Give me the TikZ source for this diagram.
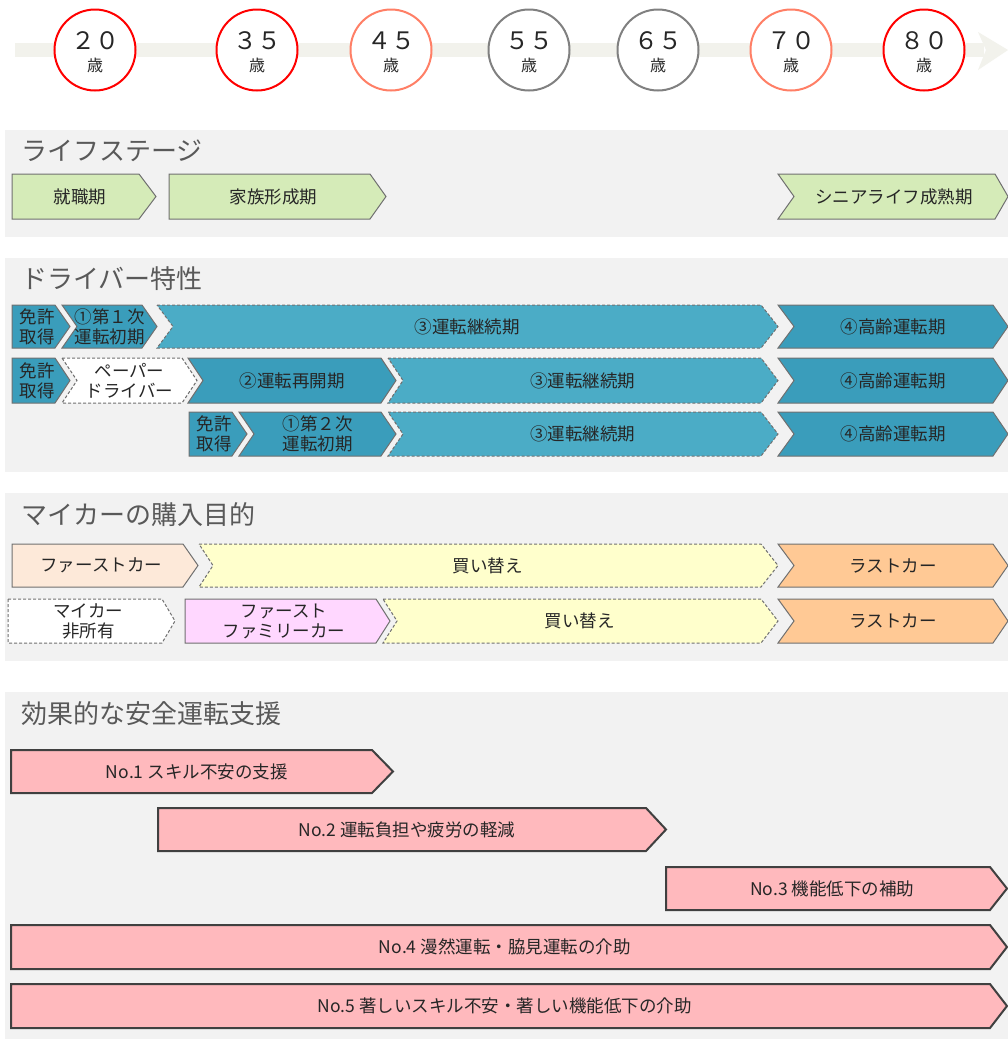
\documentclass[tikz,border=0pt]{standalone}
\usepackage{fontspec}
\newfontfamily\jp{Noto Sans CJK JP}
\definecolor{panelc}{HTML}{F2F2F2}
\definecolor{bandc}{HTML}{F2F2EC}
\definecolor{txtc}{HTML}{262626}
\definecolor{headc}{HTML}{595959}
\definecolor{bordc}{HTML}{707070}
\definecolor{greenf}{HTML}{D5EBB8}
\definecolor{tealDf}{HTML}{3A9DBB}
\definecolor{tealLf}{HTML}{4BACC6}
\definecolor{firstf}{HTML}{FDE9D9}
\definecolor{kaif}{HTML}{FFFFCC}
\definecolor{lastf}{HTML}{FFC995}
\definecolor{famf}{HTML}{FFD7FF}
\definecolor{pinkf}{HTML}{FFB9BD}
\definecolor{pinkb}{HTML}{404040}
\definecolor{salm}{HTML}{FF7F66}
\definecolor{greyc}{HTML}{808080}
\tikzset{
  lbl/.style={font=\jp\fontsize{17.5}{20}\selectfont, text=txtc, align=center, inner sep=0pt},
  head/.style={font=\jp\fontsize{26}{30}\selectfont, text=headc, anchor=west, inner sep=0pt},
  solidb/.style={draw=bordc, line width=1pt},
  dashb/.style={draw=bordc, line width=1pt, dash pattern=on 3pt off 2pt},
  green/.style={solidb, fill=greenf},
  tealD/.style={solidb, fill=tealDf},
  tealL/.style={dashb, fill=tealLf},
  paper/.style={dashb, fill=white},
  firstcar/.style={solidb, fill=firstf},
  kaikae/.style={dashb, fill=kaif},
  lastcar/.style={solidb, fill=lastf},
  family/.style={solidb, fill=famf},
  nocar/.style={dashb, fill=white},
  pinkbar/.style={draw=pinkb, line width=2pt, fill=pinkf},
  agecirc/.style={circle, minimum size=81pt, line width=2pt, fill=white, inner sep=0pt},
  agenum/.style={font=\jp\fontsize{24}{24}\selectfont, text=txtc, inner sep=0pt},
  agesai/.style={font=\jp\fontsize{16}{16}\selectfont, text=txtc, inner sep=0pt},
}
% #1 style, #2 x1, #3 tip x, #4 top y, #5 bottom y, #6 notch depth, #7 tip depth, #8 name, #9 text
\newcommand\shp[9]{%
  \pgfmathsetmacro\ymid{(#4+#5)/2}%
  \pgfmathsetmacro\xcen{(#2+#6/2+#3-#7/2)/2}%
  \draw[#1] (#2,#4) -- ({#3-#7},#4) -- (#3,\ymid) -- ({#3-#7},#5) -- (#2,#5) -- ({#2+#6},\ymid) -- cycle;
  \node[lbl] (#8) at (\xcen,\ymid) {#9};}
\newcommand\agenode[4]{%
  \node[agecirc, draw=#2] (#1) at (#3,50) {};
  \node[agenum] (#1n) at (#3,41) {#4};
  \node[agesai] (#1s) at (#3,65) {歳};}
\begin{document}
\begin{tikzpicture}[x=1pt, y=-1pt]
\useasboundingbox (0,0) rectangle (1008,1039);
\fill[white] (0,0) rectangle (1008,1039);
% timeline band
\fill[bandc] (15,43) rectangle (984,57);
\fill[bandc] (978,32) -- (1008,50) -- (978,70) -- (986,50) -- cycle;
\agenode{a20}{red}{95}{２０}
\agenode{a35}{red}{257}{３５}
\agenode{a45}{salm}{391}{４５}
\agenode{a55}{greyc}{529}{５５}
\agenode{a65}{greyc}{658}{６５}
\agenode{a70}{salm}{791}{７０}
\agenode{a80}{red}{924}{８０}
% panels
\fill[panelc] (5,130) rectangle (1008,237);
\fill[panelc] (5,258) rectangle (1008,472);
\fill[panelc] (5,493) rectangle (1008,661);
\fill[panelc] (5,692) rectangle (1008,1039);
\node[head] (h1) at (21,151) {ライフステージ};
\node[head] (h2) at (21,279) {ドライバー特性};
\node[head] (h3) at (21,515) {マイカーの購入目的};
\node[head] (h4) at (21,714) {効果的な安全運転支援};
% life stage
\shp{green}{12}{156}{174}{219}{0}{17}{s1a}{就職期}
\shp{green}{169}{386}{174}{219}{0}{16}{s1b}{家族形成期}
\shp{green}{778}{1008}{174}{219}{16}{13}{s1c}{シニアライフ成熟期}
% driver row 1
\shp{tealD}{12}{70}{305}{348}{0}{15}{d1a}{免許\\取得}
\shp{tealD}{62}{157}{305}{348}{15}{15}{d1b}{①第１次\\運転初期}
\shp{tealL}{157}{778}{305}{348}{16}{17}{d1c}{③運転継続期}
\shp{tealD}{778}{1008}{305}{348}{16}{15}{d1d}{④高齢運転期}
% driver row 2
\shp{tealD}{12}{70}{358}{403}{0}{15}{d2a}{免許\\取得}
\shp{paper}{62}{197}{358}{403}{15}{15}{d2b}{ペーパー\\ドライバー}
\shp{tealD}{188}{396}{358}{403}{15}{15}{d2c}{②運転再開期}
\shp{tealL}{388}{778}{358}{403}{15}{17}{d2d}{③運転継続期}
\shp{tealD}{778}{1008}{358}{403}{16}{15}{d2e}{④高齢運転期}
% driver row 3
\shp{tealD}{189}{247}{412}{456}{0}{15}{d3a}{免許\\取得}
\shp{tealD}{239}{396}{412}{456}{15}{15}{d3b}{①第２次\\運転初期}
\shp{tealL}{388}{778}{412}{456}{15}{17}{d3c}{③運転継続期}
\shp{tealD}{778}{1008}{412}{456}{16}{15}{d3d}{④高齢運転期}
% purchase row 1
\shp{firstcar}{12}{198}{544}{587}{0}{15}{p1a}{ファーストカー}
\shp{kaikae}{199}{778}{544}{587}{14}{17}{p1b}{買い替え}
\shp{lastcar}{778}{1008}{544}{587}{16}{15}{p1c}{ラストカー}
% purchase row 2
\shp{nocar}{8}{175}{599}{643}{0}{13}{p2a}{マイカー\\非所有}
\shp{family}{185}{390}{599}{643}{0}{14}{p2b}{ファースト\\ファミリーカー}
\shp{kaikae}{383}{778}{599}{643}{14}{17}{p2c}{買い替え}
\shp{lastcar}{778}{1008}{599}{643}{16}{15}{p2d}{ラストカー}
% support
\shp{pinkbar}{11}{393}{750}{793}{0}{21}{e1}{No.1 スキル不安の支援}
\shp{pinkbar}{158}{666}{808}{851}{0}{20}{e2}{No.2 運転負担や疲労の軽減}
\shp{pinkbar}{666}{1007}{867}{910}{0}{17}{e3}{No.3 機能低下の補助}
\shp{pinkbar}{11}{1007}{925}{969}{0}{17}{e4}{No.4 漫然運転・脇見運転の介助}
\shp{pinkbar}{11}{1007}{984}{1028}{0}{17}{e5}{No.5 著しいスキル不安・著しい機能低下の介助}
\end{tikzpicture}
\end{document}
